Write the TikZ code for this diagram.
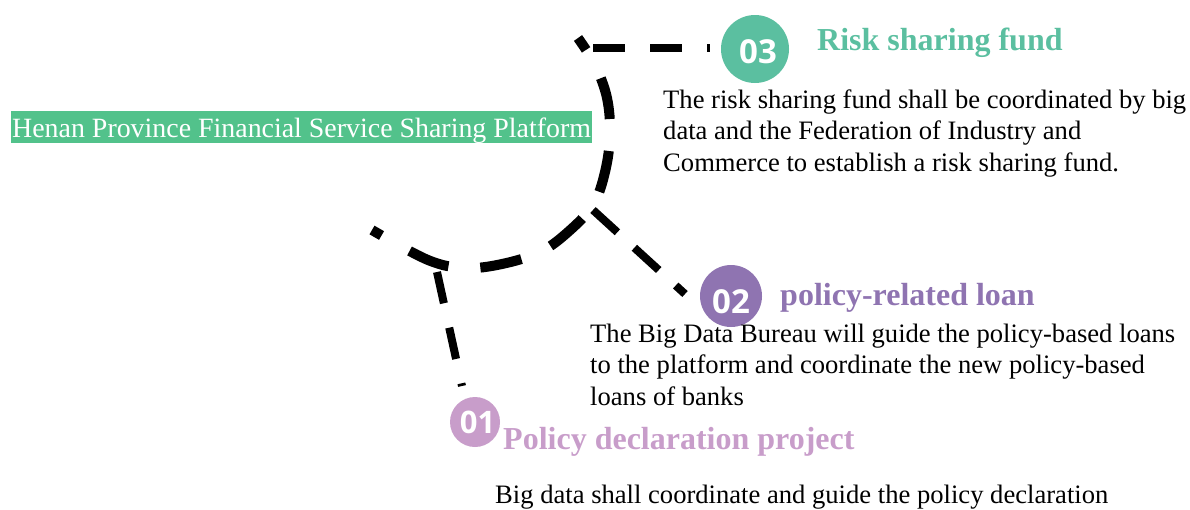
\documentclass[tikz,border=0pt]{standalone}
\usepackage{fontspec}
\setmainfont{Liberation Serif}
\newfontfamily\numfont{Open Sans}
\definecolor{platgreen}{HTML}{52C28B}
\definecolor{fundgreen}{HTML}{5BBFA0}
\definecolor{loanpurple}{HTML}{8F74B1}
\definecolor{declpink}{HTML}{C89DCA}
\tikzset{
  arcline/.style={line width=10pt, dash pattern=on 42pt off 32pt, dash phase=31pt},
  branchline/.style={line width=8pt, dash pattern=on 32pt off 25pt},
  badge/.style={circle, inner sep=0pt},
  badgenum/.style={anchor=base, inner sep=0pt, text=white, font=\numfont\bfseries\fontsize{33}{33}\selectfont},
  heading/.style={anchor=base west, inner sep=0pt, font=\bfseries\fontsize{32}{32}\selectfont},
  % multi-line nodes sit on the baseline of their last line
  bodytext/.style={anchor=base west, inner sep=0pt, align=left, font=\fontsize{26.6}{31.5}\selectfont},
}
\begin{document}
\begin{tikzpicture}[x=1pt,y=-1pt]
\useasboundingbox (0,0) rectangle (1190,509);

% platform banner
\node[fill=platgreen, text=white, inner xsep=1pt, inner ysep=0pt, text height=26.5pt, text depth=5.5pt,
      anchor=base west, font=\fontsize{27.9}{28}\selectfont] (platform) at (11,137.5)
  {Henan Province Financial Service Sharing Platform};

% badges
\node[badge, fill=fundgreen, minimum size=68pt] (c3) at (755,49) {};
\node[badgenum] (n3) at (758,63) {03};
\node[badge, fill=loanpurple, minimum size=62pt] (c2) at (731,296) {};
\node[badgenum] (n2) at (731,313) {02};
\node[badge, fill=declpink, minimum size=50pt] (c1) at (475,422) {};
\node[badgenum, font=\numfont\bfseries\fontsize{31}{31}\selectfont] (n1) at (477.5,433) {01};

% headings
\node[heading, text=fundgreen] (h3) at (817,50) {Risk sharing fund};
\node[heading, text=loanpurple] (h2) at (780,305) {policy-related loan};
\node[heading, text=declpink] (h1) at (503,449) {Policy declaration project};

% descriptions
\node[bodytext] (t3) at (663,171) {The risk sharing fund shall be coordinated by big\\data and the Federation of Industry and\\Commerce to establish a risk sharing fund.};
\node[bodytext] (t2) at (590,405) {The Big Data Bureau will guide the policy-based loans\\to the platform and coordinate the new policy-based\\loans of banks};
\node[bodytext] (t1) at (495,503) {Big data shall coordinate and guide the policy declaration};

% main arc
\coordinate (arcA) at (372,230);
\coordinate (arcB) at (578,38);
\draw[arcline] plot[smooth, tension=0.6] coordinates {(arcA) (428,260) (465,268) (502,264) (540,252) (568,232) (593,205) (605,172) (610,135) (607,98) (595,65) (arcB)};

% branches
\coordinate (b3) at (593,48);
\coordinate (e3) at (710,48);
\coordinate (b2) at (593,210);
\coordinate (e2) at (685,294);
\coordinate (b1) at (437,272);
\coordinate (e1) at (462,386);
\draw[branchline] (b3) -- (e3);
\draw[branchline, dash pattern=on 33pt off 23pt] (b2) -- (e2);
\draw[branchline] (b1) -- (e1);
\end{tikzpicture}
\end{document}
